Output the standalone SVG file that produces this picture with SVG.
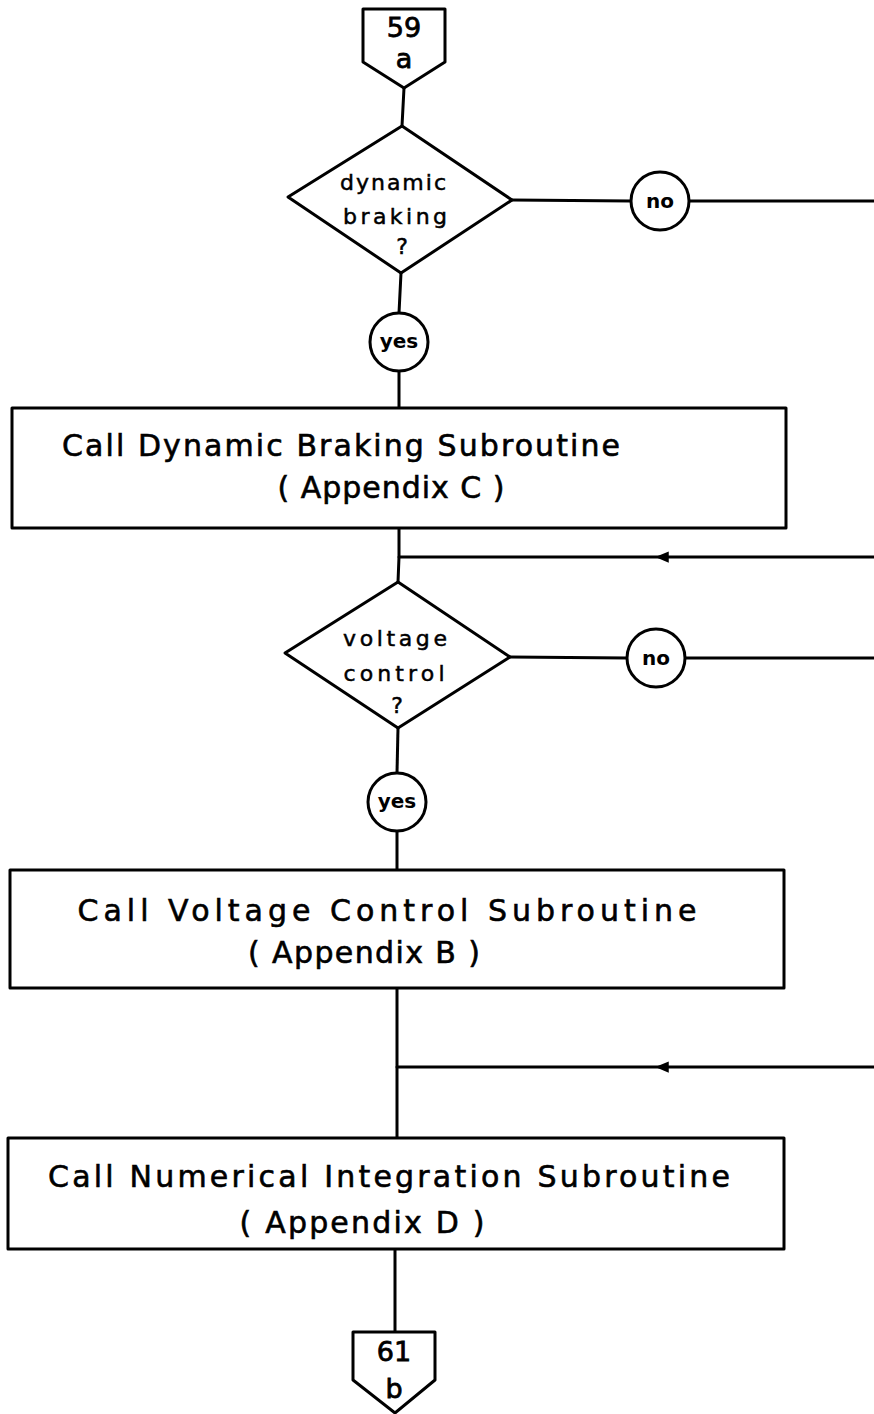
<svg xmlns="http://www.w3.org/2000/svg" width="874" height="1414" viewBox="0 0 874 1414">
<style>
.s{fill:none;stroke:#000;stroke-width:3;stroke-linejoin:round;stroke-linecap:round}
.n{fill:#fff;stroke:#000;stroke-width:3;stroke-linejoin:round}
.t{font-family:"DejaVu Sans","Liberation Sans",sans-serif;fill:#000;text-anchor:middle;white-space:pre}
.big{font-size:30px;stroke:#000;stroke-width:0.6}
.dm{font-size:22px;stroke:#000;stroke-width:0.5}
.cl{font-size:20px;font-weight:bold}
.pg{font-size:27px;stroke:#000;stroke-width:0.8}
</style>
<defs>
<marker id="arr" viewBox="0 0 12 10" refX="6" refY="5" markerWidth="4.5" markerHeight="4" orient="auto" markerUnits="strokeWidth">
<path d="M0,0 L12,5 L0,10 Z" fill="#000"/>
</marker>
</defs>
<rect width="874" height="1414" fill="#fff"/>
<g id="connectors">
<path class="s" d="M404,88 L402,126"/>
<path class="s" d="M512,200 L631,201"/>
<path class="s" d="M689,201 L874,201"/>
<path class="s" d="M401,273 L399,313"/>
<path class="s" d="M399,371 L399,408"/>
<path class="s" d="M399,528 L399,557 L398,582"/>
<path class="s" d="M874,557 L662,557" marker-end="url(#arr)"/>
<path class="s" d="M662,557 L399,557"/>
<path class="s" d="M510,657 L627,658"/>
<path class="s" d="M685,658 L874,658"/>
<path class="s" d="M398,728 L397,773"/>
<path class="s" d="M397,831 L397,870"/>
<path class="s" d="M397,988 L397,1138"/>
<path class="s" d="M874,1067 L662,1067" marker-end="url(#arr)"/>
<path class="s" d="M662,1067 L397,1067"/>
<path class="s" d="M395,1249 L395,1332"/>
</g>
<g id="start">
<path class="n" d="M363,9 L445,9 L445,62 L404,88 L363,62 Z"/>
<text class="t pg" x="404" y="37">59</text>
<text class="t pg" x="404" y="68">a</text>
</g>
<g id="decision1">
<path class="n" d="M402,126 L512,200 L401,273 L288,197 Z"/>
<text class="t dm" x="393" y="190" textLength="106" lengthAdjust="spacing">dynamic</text>
<text class="t dm" x="395" y="224" textLength="104" lengthAdjust="spacing">braking</text>
<text class="t dm" x="402" y="254">?</text>
</g>
<g id="no1">
<circle class="n" cx="660" cy="201" r="29"/>
<text class="t cl" x="660" y="208">no</text>
</g>
<g id="yes1">
<circle class="n" cx="399" cy="342" r="29"/>
<text class="t cl" x="399" y="348">yes</text>
</g>
<g id="proc1">
<rect class="n" x="12" y="408" width="774" height="120"/>
<text class="t big" x="341" y="456" textLength="558" lengthAdjust="spacing">Call Dynamic Braking Subroutine</text>
<text class="t big" x="391" y="498" textLength="227" lengthAdjust="spacing">( Appendix C )</text>
</g>
<g id="decision2">
<path class="n" d="M398,582 L510,657 L398,728 L285,653 Z"/>
<text class="t dm" x="395" y="646" textLength="104" lengthAdjust="spacing">voltage</text>
<text class="t dm" x="394" y="681" textLength="101" lengthAdjust="spacing">control</text>
<text class="t dm" x="397" y="713">?</text>
</g>
<g id="no2">
<circle class="n" cx="656" cy="658" r="29"/>
<text class="t cl" x="656" y="665">no</text>
</g>
<g id="yes2">
<circle class="n" cx="397" cy="802" r="29"/>
<text class="t cl" x="397" y="808">yes</text>
</g>
<g id="proc2">
<rect class="n" x="10" y="870" width="774" height="118"/>
<text class="t big" x="387" y="921" textLength="619" lengthAdjust="spacing">Call Voltage Control Subroutine</text>
<text class="t big" x="364" y="963" textLength="232" lengthAdjust="spacing">( Appendix B )</text>
</g>
<g id="proc3">
<rect class="n" x="8" y="1138" width="776" height="111"/>
<text class="t big" x="389" y="1187" textLength="682" lengthAdjust="spacing">Call Numerical Integration Subroutine</text>
<text class="t big" x="362" y="1233" textLength="245" lengthAdjust="spacing">( Appendix D )</text>
</g>
<g id="end">
<path class="n" d="M353,1332 L435,1332 L435,1380 L395,1413 L353,1380 Z"/>
<text class="t pg" x="394" y="1361">61</text>
<text class="t pg" x="394" y="1398">b</text>
</g>
</svg>
